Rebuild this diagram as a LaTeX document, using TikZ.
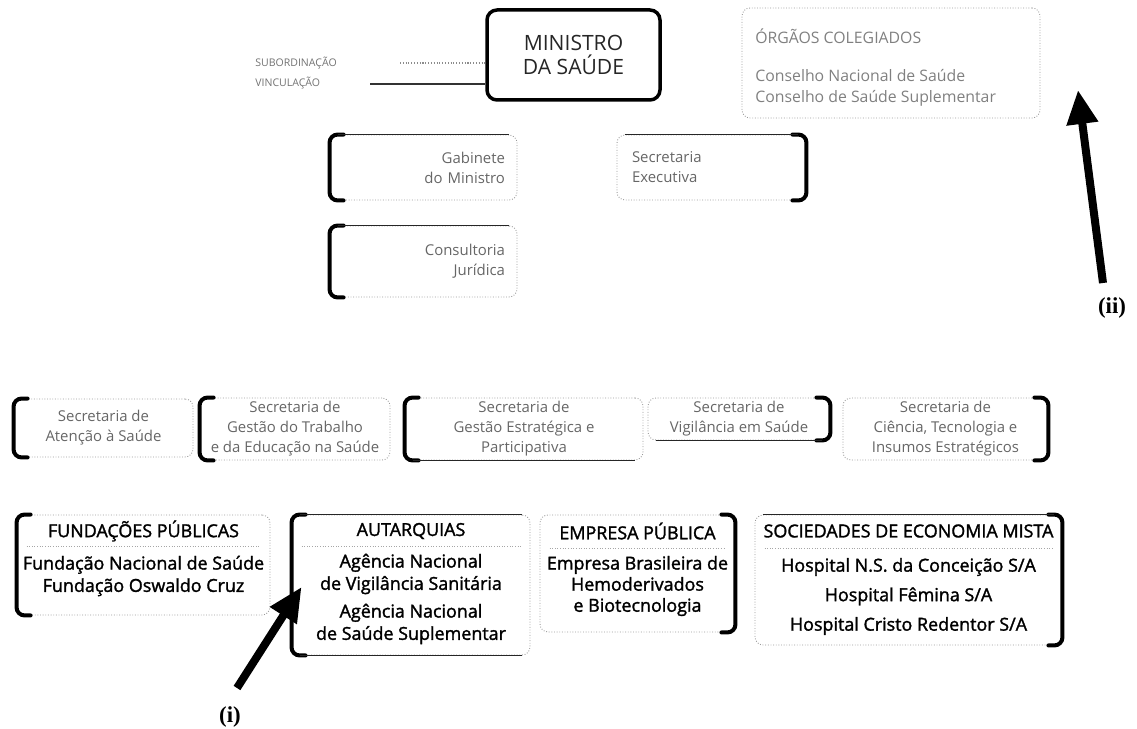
\documentclass[tikz,border=0pt]{standalone}
\usepackage{fontspec}
\setmainfont{Open Sans}
\newfontfamily\lblfont{Liberation Serif}
\newfontfamily\entfont[BoldFont={Open Sans}, BoldFeatures={FakeBold=1.6}]{Open Sans}
\usetikzlibrary{calc, arrows.meta}
\newdimen\pxu \pxu=0.02cm
\tikzstyle{obox} = [draw=black!40, densely dotted, line width=0.5pt, rounded corners=8\pxu, inner sep=0pt]
\tikzstyle{mbox} = [draw=black, line width=3.5\pxu, rounded corners=10\pxu, inner sep=0pt, align=center, text=black!85, font=\fontsize{12}{13.7}\selectfont]
\tikzstyle{brk} = [line width=4\pxu, rounded corners=8\pxu, line cap=round]
\tikzstyle{edg} = [line width=1.3\pxu, black!85]
\tikzstyle{sepln} = [densely dotted, black!35, line width=0.5pt]
\tikzstyle{lgd} = [font=\fontsize{6}{7}\selectfont, text=black!55, anchor=west, inner sep=0pt]
\tikzstyle{org} = [font=\fontsize{9}{12}\selectfont, text=black!50, anchor=west, align=left, inner sep=0pt]
\tikzstyle{sec} = [font=\fontsize{8.5}{11.4}\selectfont, text=black!60, align=center]
\tikzstyle{ent} = [font=\entfont\bfseries\fontsize{10.2}{12.7}\selectfont, align=center, inner sep=0pt]
\tikzstyle{lbl} = [font=\lblfont\bfseries\fontsize{13}{15}\selectfont, inner sep=0pt]
\tikzstyle{bigarr} = [line width=0.16cm, -{Triangle[length=0.68cm, width=0.6cm]}]
\newcommand{\lbrk}[1]{\draw[brk] ($(#1.north west)+(14,0)$) -- (#1.north west) -- (#1.south west) -- ($(#1.south west)+(14,0)$);}
\newcommand{\rbrk}[1]{\draw[brk] ($(#1.north east)+(-14,0)$) -- (#1.north east) -- (#1.south east) -- ($(#1.south east)+(-14,0)$);}
\newcommand{\topln}[1]{\draw[edg] ($(#1.north west)+(8,0)$) -- ($(#1.north east)+(-8,0)$);}
\newcommand{\botln}[1]{\draw[edg] ($(#1.south west)+(8,0)$) -- ($(#1.south east)+(-8,0)$);}
\newcommand{\sepbar}[2]{\draw[sepln] ($(#1.west |- 0,#2)+(10,0)$) -- ($(#1.east |- 0,#2)+(-10,0)$);}

\begin{document}
\begin{tikzpicture}[x=0.02cm, y=-0.02cm]
    \useasboundingbox (0,0) rectangle (1137,729);
    \node[mbox, minimum width=173\pxu, minimum height=90\pxu] (mini) at (573.5,55) {MINISTRO\\DA SAÚDE};
    \node[lgd] (sub) at (255,63) {SUBORDINAÇÃO};
    \node[lgd] (vin) at (255,83) {VINCULAÇÃO};
    \coordinate (subs) at (400,63);
    \coordinate (vins) at (370,84);
    \draw[densely dotted, black!45, line width=0.6pt] (subs) -- (subs -| mini.west);
    \draw[black!80, line width=0.8pt] (vins) -- (vins -| mini.west);

    \node[obox, minimum width=298\pxu, minimum height=110\pxu] (org) at (891,63) {};
    \node[org] (orgt) at (755,36) {ÓRGÃOS COLEGIADOS};
    \node[org] (orgb) at (755,87.5) {Conselho Nacional de Saúde\\Conselho de Saúde Suplementar};

    \node[obox, sec, align=right, text width=163\pxu, inner xsep=12\pxu, minimum height=65\pxu] (gab) at (423.5,167.5) {Gabinete\\do Ministro};
    \node[obox, sec, align=left, text width=159\pxu, inner xsep=15\pxu, minimum height=65\pxu] (exec) at (711.5,167.5) {Secretaria\\Executiva};
    \node[obox, sec, align=right, text width=163\pxu, inner xsep=12\pxu, minimum height=71\pxu] (cons) at (423.5,261.5) {Consultoria\\Jurídica};
    \lbrk{gab} \topln{gab}
    \rbrk{exec} \topln{exec}
    \lbrk{cons} \topln{cons}

    \node[obox, sec, minimum width=179\pxu, minimum height=58\pxu] (sas) at (103.5,428) {Secretaria de\\Atenção à Saúde};
    \node[obox, sec, minimum width=190\pxu, minimum height=62\pxu] (sgtes) at (295,429) {Secretaria de\\Gestão do Trabalho\\e da Educação na Saúde};
    \node[obox, sec, minimum width=238\pxu, minimum height=62\pxu] (sgep) at (524,429) {Secretaria de\\Gestão Estratégica e\\Participativa};
    \node[obox, sec, minimum width=182\pxu, minimum height=42\pxu] (svs) at (739,419) {Secretaria de\\Vigilância em Saúde};
    \node[obox, sec, minimum width=205\pxu, minimum height=62\pxu] (sctie) at (945.5,429) {Secretaria de\\Ciência, Tecnologia e\\Insumos Estratégicos};
    \lbrk{sas}
    \lbrk{sgtes}
    \lbrk{sgep} \botln{sgep}
    \rbrk{svs} \botln{svs}
    \rbrk{sctie}

    \node[obox, minimum width=253\pxu, minimum height=100\pxu] (fund) at (143.5,565) {};
    \node[ent] (fundt) at (143.5,531) {FUNDAÇÕES PÚBLICAS};
    \node[ent] (fundb) at (143.5,576) {Fundação Nacional de Saúde\\Fundação Oswaldo Cruz};
    \node[obox, minimum width=238\pxu, minimum height=140\pxu] (aut) at (411,585) {};
    \node[ent] (autt) at (411,531) {AUTARQUIAS};
    \node[ent] (autb1) at (411,574) {Agência Nacional\\de Vigilância Sanitária};
    \node[ent] (autb2) at (411,624) {Agência Nacional\\de Saúde Suplementar};
    \node[obox, minimum width=195\pxu, minimum height=117\pxu] (emp) at (637.5,573.5) {};
    \node[ent] (empt) at (637.5,531) {EMPRESA PÚBLICA};
    \node[ent, font=\entfont\bfseries\fontsize{10.2}{12}\selectfont] (empb) at (637.5,586) {Empresa Brasileira de\\Hemoderivados\\e Biotecnologia};
    \node[obox, minimum width=307\pxu, minimum height=130\pxu] (soc) at (908.5,580) {};
    \node[ent] (soct) at (908.5,531) {SOCIEDADES DE ECONOMIA MISTA};
    \node[ent, font=\entfont\bfseries\fontsize{10.2}{16.8}\selectfont] (socb) at (908.5,596.5) {Hospital N.S. da Conceição S/A\\Hospital Fêmina S/A\\Hospital Cristo Redentor S/A};
    \sepbar{fund}{546} \sepbar{aut}{546} \sepbar{emp}{548} \sepbar{soc}{548}
    \lbrk{fund}
    \lbrk{aut} \topln{aut} \botln{aut}
    \rbrk{emp}
    \rbrk{soc} \topln{soc}

    \node[lbl] (lbli) at (230,717) {(i)};
    \node[lbl] (lblii) at (1112,308) {(ii)};
    \coordinate (taili) at (237,688);
    \coordinate (tailii) at (1103,283);
    \coordinate (tipii) at (1078,90);
    \draw[bigarr] (taili) -- ($(aut.west)+(10,2)$);
    \draw[bigarr] (tailii) -- (tipii);
\end{tikzpicture}
\end{document}
